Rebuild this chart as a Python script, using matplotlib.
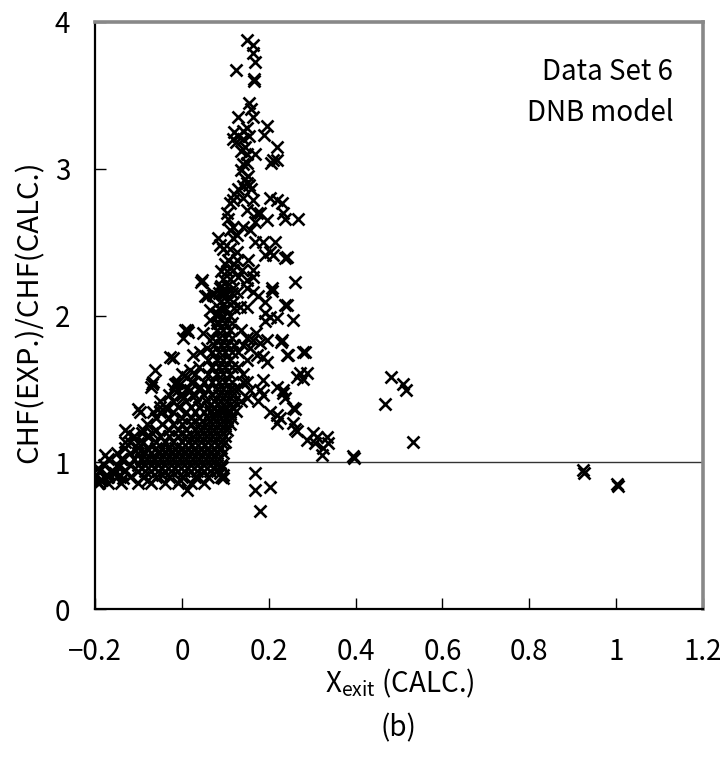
import numpy as np
import matplotlib
matplotlib.use("Agg")
import matplotlib.pyplot as plt

plt.rcParams['font.family'] = ['Noto Sans CJK JP', 'DejaVu Sans']
plt.rcParams['mathtext.default'] = 'regular'

# dense lower cloud, one row per CHF ratio level: (ratio, [x_exit values])
core_rows = [
    (0.86, [-0.19, -0.17, -0.14, -0.10, -0.07, -0.04, -0.01, 0.02, 0.05]),
    (0.90, [-0.20, -0.18, -0.15, -0.12, -0.09, -0.06, -0.03, 0.00, 0.03, 0.06, 0.09]),
    (0.94, [-0.19, -0.16, -0.13, -0.10, -0.085, -0.07, -0.055, -0.04, -0.025, -0.01,
            0.005, 0.02, 0.035, 0.05, 0.065, 0.08]),
    (0.98, [-0.18, -0.15, -0.12, -0.10, -0.085, -0.07, -0.055, -0.04, -0.025, -0.01,
            0.005, 0.02, 0.035, 0.05, 0.065, 0.08, 0.09]),
    (1.02, [-0.17, -0.14, -0.11, -0.095, -0.08, -0.065, -0.05, -0.035, -0.02, -0.005,
            0.01, 0.025, 0.04, 0.055, 0.07, 0.085]),
    (1.06, [-0.15, -0.12, -0.10, -0.085, -0.07, -0.055, -0.04, -0.025, -0.01, 0.005,
            0.02, 0.035, 0.05, 0.065, 0.08, 0.095]),
    (1.10, [-0.13, -0.10, -0.08, -0.06, -0.045, -0.03, -0.015, 0.0, 0.015, 0.03,
            0.045, 0.06, 0.075, 0.09]),
    (1.14, [-0.12, -0.09, -0.06, -0.04, -0.02, 0.0, 0.015, 0.03, 0.045, 0.06, 0.075, 0.09, 0.10]),
    (1.18, [-0.11, -0.08, -0.05, -0.03, -0.01, 0.01, 0.025, 0.04, 0.055, 0.07, 0.085, 0.10]),
    (1.22, [-0.13, -0.09, -0.06, -0.03, -0.01, 0.01, 0.03, 0.045, 0.06, 0.075, 0.09, 0.105]),
    (1.26, [-0.08, -0.045, -0.02, 0.0, 0.02, 0.04, 0.055, 0.07, 0.085, 0.10, 0.11]),
    (1.30, [-0.06, -0.03, 0.0, 0.02, 0.04, 0.06, 0.075, 0.09, 0.105, 0.115]),
    (1.34, [-0.05, -0.02, 0.01, 0.03, 0.05, 0.065, 0.08, 0.095, 0.11]),
    (1.38, [-0.04, -0.01, 0.02, 0.04, 0.06, 0.075, 0.09, 0.10, 0.115]),
    (1.42, [-0.05, -0.02, 0.01, 0.035, 0.055, 0.075, 0.09, 0.105, 0.12]),
    (1.46, [-0.03, 0.0, 0.03, 0.05, 0.07, 0.085, 0.10, 0.115]),
    (1.50, [-0.02, 0.01, 0.04, 0.06, 0.08, 0.095, 0.11, 0.12]),
    (1.55, [-0.01, 0.02, 0.05, 0.07, 0.085, 0.10, 0.115]),
    (1.60, [0.0, 0.03, 0.06, 0.08, 0.095, 0.11]),
    (1.65, [0.04, 0.07, 0.085, 0.10, 0.115]),
    (1.70, [0.06, 0.08, 0.095, 0.11]),
    (1.75, [0.07, 0.085, 0.10, 0.115]),
    (1.80, [0.075, 0.09, 0.105, 0.12]),
    (1.85, [0.07, 0.085, 0.10, 0.115]),
    (1.90, [0.08, 0.095, 0.11]),
    (1.95, [0.085, 0.10, 0.115]),
    (2.00, [0.08, 0.095, 0.11]),
    (2.05, [0.085, 0.10, 0.12]),
    (2.10, [0.09, 0.105]),
    (2.15, [0.085, 0.10, 0.115]),
    (2.20, [0.09, 0.105]),
    (2.25, [0.095, 0.11]),
    (2.30, [0.09, 0.105]),
    (2.35, [0.10, 0.12]),
]

# scattered points around the lower cloud
fringe_pts = [
    (-0.193, 0.96), (-0.184, 0.88), (-0.193, 0.86), (-0.17, 0.90), (-0.177, 1.05),
    (-0.138, 1.02), (-0.147, 0.97), (-0.131, 0.95), (-0.154, 0.93), (-0.136, 0.89),
    (-0.078, 0.88), (-0.046, 0.91), (-0.005, 0.88), (0.037, 0.89), (0.011, 0.81),
    (0.092, 0.97), (0.094, 0.89), (0.087, 0.93), (0.094, 0.91), (-0.173, 0.91),
    (-0.189, 0.88),
    (-0.101, 1.36), (-0.124, 1.20), (-0.092, 1.20), (-0.069, 1.20), (-0.131, 1.14),
    (-0.101, 1.13), (-0.097, 1.34), (-0.07, 1.51), (-0.068, 1.53), (-0.062, 1.63),
    (-0.067, 1.55), (-0.012, 1.54), (-0.051, 1.38), (-0.034, 1.36), (-0.067, 1.34),
    (-0.016, 1.53), (-0.009, 1.49), (0.041, 1.51), (0.018, 1.49), (0.002, 1.44),
    (0.034, 1.42), (0.018, 1.63), (0.011, 1.58), (0.025, 1.55), (-0.028, 1.72),
    (-0.02, 1.71), (0.011, 1.90), (0.002, 1.85), (0.007, 1.90), (0.014, 1.89),
    (0.048, 1.88), (0.057, 1.78), (0.041, 1.75), (0.025, 1.73), (0.064, 2.04),
    (0.08, 2.02), (0.094, 1.99), (0.064, 1.97), (0.08, 1.95), (0.053, 2.13),
    (0.071, 2.14), (0.092, 2.15), (0.046, 2.24), (0.045, 2.23), (0.087, 2.19),
    (0.071, 2.15), (0.057, 2.13),
]

# the peak above 2.1
peak_pts = [
    (0.117, 2.19), (0.126, 2.16), (0.149, 2.19), (0.163, 2.16), (0.175, 2.13),
    (0.207, 2.19), (0.237, 2.07), (0.191, 2.09), (0.117, 2.09), (0.133, 2.06),
    (0.149, 2.06), (0.129, 2.26), (0.149, 2.24), (0.163, 2.26), (0.26, 2.23),
    (0.117, 2.31), (0.138, 2.31), (0.163, 2.31), (0.106, 2.38), (0.126, 2.38),
    (0.152, 2.38), (0.094, 2.45), (0.11, 2.45), (0.126, 2.43), (0.168, 2.50),
    (0.186, 2.50), (0.214, 2.50), (0.202, 2.43), (0.191, 2.41), (0.209, 2.41),
    (0.241, 2.40), (0.237, 2.39), (0.083, 2.53), (0.087, 2.48), (0.117, 2.53),
    (0.126, 2.55), (0.117, 2.60), (0.11, 2.58), (0.14, 2.60), (0.156, 2.58),
    (0.195, 2.65), (0.168, 2.64), (0.103, 2.70), (0.106, 2.66), (0.149, 2.72),
    (0.172, 2.70), (0.179, 2.70), (0.232, 2.70), (0.237, 2.66), (0.267, 2.66),
    (0.117, 2.79), (0.11, 2.77), (0.163, 2.79), (0.202, 2.80), (0.218, 2.79),
    (0.23, 2.77), (0.14, 2.88), (0.15, 2.90), (0.155, 2.89), (0.137, 2.99),
    (0.152, 2.95), (0.149, 3.04), (0.206, 3.04), (0.219, 3.06), (0.209, 3.06),
    (0.14, 3.03), (0.149, 3.10), (0.168, 3.10), (0.22, 3.15), (0.195, 3.29),
    (0.19, 3.23), (0.129, 3.35), (0.163, 3.35), (0.16, 3.41), (0.154, 3.45),
    (0.165, 3.61), (0.167, 3.60), (0.124, 3.67), (0.168, 3.73), (0.164, 3.79),
    (0.164, 3.84), (0.149, 3.88),
    (0.12, 3.25), (0.13, 3.22), (0.14, 3.20), (0.125, 3.18), (0.145, 3.15),
    (0.135, 3.12), (0.155, 3.22), (0.15, 3.28), (0.118, 3.20), (0.14, 3.26),
    (0.145, 2.93), (0.13, 2.86), (0.16, 2.86), (0.12, 2.83), (0.14, 2.80),
]

# right-hand branch coming down from the peak
branch_pts = [
    (0.207, 2.17), (0.241, 2.07), (0.255, 1.97), (0.191, 2.02), (0.202, 1.99),
    (0.218, 1.98), (0.191, 1.96), (0.149, 1.85), (0.163, 1.83), (0.179, 1.81),
    (0.156, 1.78), (0.195, 1.83), (0.23, 1.83), (0.229, 1.82), (0.241, 1.73),
    (0.244, 1.73), (0.278, 1.75), (0.283, 1.75), (0.195, 1.68), (0.172, 1.73),
    (0.186, 1.72), (0.135, 1.90), (0.14, 1.80), (0.13, 1.75), (0.17, 1.88),
    (0.15, 1.70), (0.13, 1.65), (0.14, 1.60),
    (0.271, 1.61), (0.287, 1.61), (0.264, 1.58), (0.278, 1.57), (0.149, 1.55),
    (0.186, 1.56), (0.179, 1.49), (0.156, 1.49), (0.149, 1.44), (0.218, 1.51),
    (0.232, 1.49), (0.237, 1.44), (0.255, 1.37), (0.175, 1.42), (0.186, 1.46),
    (0.232, 1.47), (0.202, 1.34), (0.218, 1.32), (0.225, 1.30), (0.218, 1.27),
    (0.26, 1.36), (0.255, 1.27), (0.26, 1.23), (0.264, 1.21), (0.287, 1.15),
    (0.301, 1.20), (0.31, 1.17), (0.306, 1.13), (0.333, 1.17), (0.324, 1.10),
    (0.336, 1.13), (0.322, 1.05), (0.393, 1.04), (0.396, 1.03),
    (0.168, 0.93), (0.168, 0.81), (0.202, 0.83), (0.179, 0.67),
    (0.13, 1.50), (0.135, 1.42), (0.125, 1.35), (0.14, 1.55),
]

# isolated points at higher exit quality
far_pts = [
    (0.482, 1.58), (0.509, 1.53), (0.515, 1.49), (0.467, 1.40), (0.532, 1.14),
    (0.924, 0.95), (0.927, 0.93), (1.001, 0.85), (1.003, 0.84),
]

x_ticks = [-0.2, 0, 0.2, 0.4, 0.6, 0.8, 1.0, 1.2]
x_tick_labels = ['\u22120.2', '0', '0.2', '0.4', '0.6', '0.8', '1', '1.2']
y_ticks = [0, 1, 2, 3, 4]
y_tick_labels = ['0', '1', '2', '3', '4']

core_x = [x for y, xs in core_rows for x in xs]
core_y = [y for y, xs in core_rows for x in xs]
pts = np.array(fringe_pts + peak_pts + branch_pts + far_pts)
all_x = np.concatenate([core_x, pts[:, 0]])
all_y = np.concatenate([core_y, pts[:, 1]])

fig = plt.figure(figsize=(7.26, 7.61), dpi=100)
ax = fig.add_axes([0.1309, 0.1997, 0.8375, 0.7714])

ax.axhline(1.0, color='#333333', linewidth=1.0, zorder=1)
ax.plot(all_x, all_y, linestyle='none', marker='x', color='black',
        markersize=8, markeredgewidth=1.9, zorder=2)

ax.set_xlim(-0.2, 1.2)
ax.set_ylim(0, 4)
ax.set_xticks(x_ticks)
ax.set_xticklabels(x_tick_labels)
ax.set_yticks(y_ticks)
ax.set_yticklabels(y_tick_labels)
ax.tick_params(axis='both', direction='in', length=8, width=1, labelsize=20)
ax.tick_params(axis='x', pad=20)
ax.tick_params(axis='y', pad=18)

for side in ['left', 'bottom']:
    ax.spines[side].set_color('black')
    ax.spines[side].set_linewidth(1.6)
for side in ['top', 'right']:
    ax.spines[side].set_color('#888888')
    ax.spines[side].set_linewidth(2.6)

ax.text(0.951, 0.915, 'Data Set 6', transform=ax.transAxes, ha='right',
        va='center', fontsize=20)
ax.text(0.951, 0.845, 'DNB model', transform=ax.transAxes, ha='right',
        va='center', fontsize=20)

fig.text(30 / 726, 1 - 312 / 761, 'CHF(EXP.)/CHF(CALC.)', rotation=90,
         ha='center', va='center', fontsize=21)
fig.text(400 / 726, 1 - 683 / 761, r'X$_{\mathregular{exit}}$ (CALC.)',
         ha='center', va='center', fontsize=20)
fig.text(398 / 726, 1 - 728 / 761, '(b)', ha='center', va='center', fontsize=20)

fig.savefig('out.png', dpi=100)
